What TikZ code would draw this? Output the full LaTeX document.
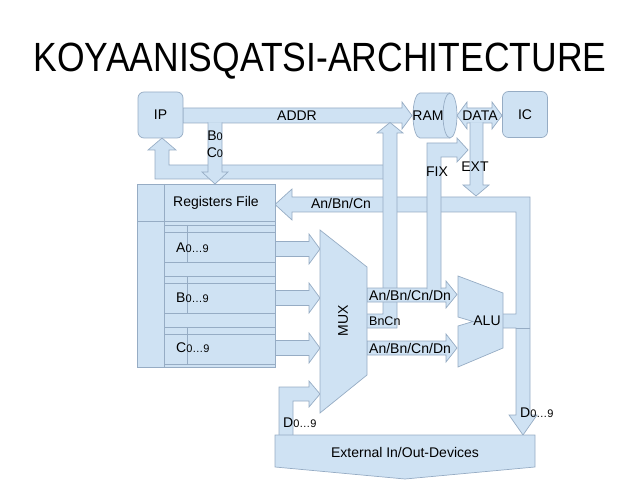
\documentclass[tikz,border=0pt]{standalone}
\usepackage{fontspec}
\setmainfont{Liberation Sans}
\definecolor{busfill}{RGB}{207,226,243}
\definecolor{busline}{RGB}{150,172,196}
\newcommand{\idx}[1]{{\fontsize{11}{12}\selectfont #1}}

\begin{document}
\begin{tikzpicture}[x=1pt,y=-1pt,
  bus/.style={fill=busfill, draw=busline, line width=0.7pt},
  unit/.style={bus, rounded corners=6pt, minimum width=45pt, minimum height=46pt, font=\fontsize{14}{16}\selectfont},
  lbl/.style={inner sep=0pt, font=\fontsize{14}{16}\selectfont}]

\useasboundingbox (0,0) rectangle (640,481);

\node[inner sep=0pt, font=\fontsize{35.5}{40}\selectfont] (title) at (320,61) {\scalebox{1}[1.15]{KOYAANISQATSI-ARCHITECTURE}};

% result bus: ALU -> Registers File and ALU -> External
\filldraw[bus] (503,314) -- (516,314) -- (516,212) -- (292,212) -- (292,220) -- (275,204.5) -- (292,189)
  -- (292,197) -- (530,197) -- (530,415) -- (537,415) -- (523,435) -- (509,415) -- (516,415) -- (516,328) -- (503,328);
\draw[busline, line width=0.7pt] (516,328) -- (530,328);

% address bus
\filldraw[bus] (183,108) -- (402,108) -- (402,102) -- (412,115.5) -- (402,129) -- (402,123) -- (183,123) -- cycle;

% back to IP
\filldraw[bus] (383,165) -- (169,165) -- (169,150) -- (176,150) -- (162,138) -- (148,150) -- (155,150) -- (155,179) -- (383,179);

% B0 C0 down
\filldraw[bus] (208,122.5) -- (208,172) -- (202,172) -- (215,184) -- (228,172) -- (222,172) -- (222,122.5);

% BnCn up to ADDR
\filldraw[bus] (367,314) -- (383,314) -- (383,133) -- (377,133) -- (390,122.5) -- (403,133) -- (397,133) -- (397,328) -- (367,328);

% MUX outputs
\filldraw[bus] (367,288) -- (446,288) -- (446,281) -- (457,294.5) -- (446,308) -- (446,302) -- (367,302) -- cycle;
\filldraw[bus] (367,341) -- (446,341) -- (446,334) -- (457,348) -- (446,362) -- (446,355) -- (367,355) -- cycle;

% FIX
\filldraw[bus] (427,289) -- (427,143) -- (457,143) -- (457,138) -- (468,150) -- (457,162) -- (457,157) -- (441,157) -- (441,289);

% DATA and EXT
\filldraw[bus] (457,115.5) -- (467,102) -- (467,108) -- (492,108) -- (492,102) -- (502,115.5) -- (492,129) -- (492,123)
  -- (467,123) -- (467,129) -- cycle;
\filldraw[bus] (470,122.5) -- (470,185) -- (463,185) -- (476,196) -- (489,185) -- (483,185) -- (483,122.5);

% registers -> MUX
\foreach \y in {249,298,348}
  \filldraw[bus] (275,\y-7.5) -- (309,\y-7.5) -- (309,\y-15) -- (320,\y) -- (309,\y+15) -- (309,\y+7.5) -- (275,\y+7.5) -- cycle;

% External -> MUX
\filldraw[bus] (279,435) -- (279,387) -- (309,387) -- (309,381) -- (320,394) -- (309,407) -- (309,401) -- (293,401) -- (293,435);

% units
\node[unit] (ip) at (160.5,115) {IP};
\node[unit] (ic) at (525,114.5) {IC};

\filldraw[bus] (420,93) -- (450,93) arc[start angle=-90, end angle=90, x radius=7, y radius=22.5]
  -- (420,138) arc[start angle=90, end angle=270, x radius=7, y radius=22.5] -- cycle;
\draw[busline, line width=0.7pt] (450,93) arc[start angle=270, end angle=90, x radius=7, y radius=22.5];
\node[lbl] (ram) at (428,115.5) {RAM};

% registers file
\filldraw[bus] (137,184) rectangle (275,367);
\draw[busline, line width=0.7pt] (164,184) -- (164,367) (137,221) -- (275,221);
\foreach \y in {225,276,327}
  \draw[busline, line width=0.7pt] (164,\y) -- (275,\y) (164,\y+7) -- (275,\y+7) (164,\y+37) -- (275,\y+37) (187,\y) -- (187,\y+37);
\node[lbl] (regs) at (216,203) {Registers File};
\node[lbl, anchor=west] (ra) at (176,248) {A\idx{0…9}};
\node[lbl, anchor=west] (rb) at (176,298) {B\idx{0…9}};
\node[lbl, anchor=west] (rc) at (176,348) {C\idx{0…9}};

\filldraw[bus] (320,230) -- (367,267) -- (367,375) -- (320,413) -- cycle;
\node[lbl, rotate=90] (mux) at (343,321) {MUX};

\filldraw[bus] (458,276) -- (503,293) -- (503,348) -- (458,367) -- (458,326) -- (473,321.5) -- (458,317) -- cycle;
\node[lbl] (alu) at (487,321) {ALU};

\filldraw[bus] (275,435) -- (535,435) -- (535,467) -- (405,479) -- (275,467) -- cycle;
\node[lbl] (ext) at (405,452) {External In/Out-Devices};

% bus labels
\node[lbl] (addr) at (297,115.5) {ADDR};
\node[lbl] (data) at (480,115.5) {DATA};
\node[lbl] (b0) at (215,136) {B\idx{0}};
\node[lbl] (c0) at (215,153) {C\idx{0}};
\node[lbl] (fix) at (437,172) {FIX};
\node[lbl] (extl) at (475,167) {EXT};
\node[lbl] (res) at (341,203) {An/Bn/Cn};
\node[lbl, anchor=west] (o1) at (369,295) {An/Bn/Cn/Dn};
\node[lbl, anchor=west, font=\fontsize{12.5}{14}\selectfont] (o2) at (369,321) {BnCn};
\node[lbl, anchor=west] (o3) at (369,348) {An/Bn/Cn/Dn};
\node[lbl, anchor=west] (dl) at (283,423) {D\idx{0…9}};
\node[lbl, anchor=west] (dr) at (520,413) {D\idx{0…9}};

\end{tikzpicture}
\end{document}
